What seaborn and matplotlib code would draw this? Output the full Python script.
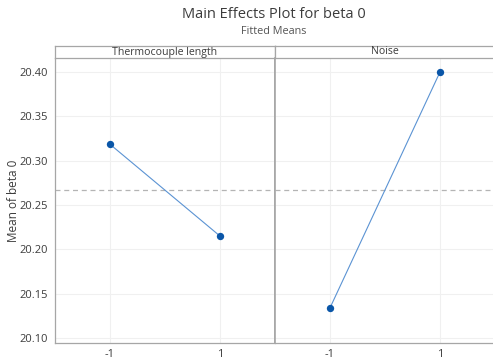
import matplotlib
matplotlib.use("Agg")
import matplotlib.pyplot as plt
import seaborn as sns
import pandas as pd
import numpy as np

factors = ["Thermocouple length", "Noise"]
levels = [-1, 1]
thermo_means = [20.3185, 20.215]
noise_means = [20.134, 20.400]
yticks = [20.10, 20.15, 20.20, 20.25, 20.30, 20.35, 20.40]
ytick_labels = ["20.10", "20.15", "20.20", "20.25", "20.30", "20.35", "20.40"]

sns.set_style("white")
plt.rcParams["font.family"] = ["Open Sans", "DejaVu Sans"]

df = pd.DataFrame({
    "factor": [factors[0]] * 2 + [factors[1]] * 2,
    "level": levels * 2,
    "mean": thermo_means + noise_means,
})
grand_mean = df["mean"].mean()

W, H = 493, 363
fig = plt.figure(figsize=(W / 100, H / 100), dpi=100)

left = 55 / W
right = 495 / W
pw = (right - left) / 2
top_strip = 1 - 46 / H
top_plot = 1 - 58 / H
bottom = 1 - 343 / H

spine_c = "#a6a6a6"
text_c = "#3c3c3c"
grid_c = "#f0f0f0"

axes = []
for i, fac in enumerate(factors):
    x0 = left + i * pw
    ax = fig.add_axes([x0, bottom, pw, top_plot - bottom], sharey=axes[0] if axes else None)
    sax = fig.add_axes([x0, top_plot, pw, top_strip - top_plot])
    sub = df[df["factor"] == fac]
    ax.grid(True, color=grid_c, linewidth=0.8)
    ax.set_axisbelow(True)
    ax.axhline(grand_mean, color="#b4b4b4", linestyle=(0, (4, 3)), linewidth=0.9, zorder=1)
    sns.lineplot(data=sub, x="level", y="mean", ax=ax, color="#5b93d3", linewidth=0.8, zorder=2)
    sns.scatterplot(data=sub, x="level", y="mean", ax=ax, color="#0a56a8", s=28,
                    edgecolor="#0a56a8", linewidth=0, zorder=3)
    ax.set_xlim(-2, 2)
    ax.set_xticks(levels)
    ax.set_xticklabels([str(l) for l in levels])
    ax.set_xlabel("")
    ax.set_ylabel("")
    ax.set_ylim(20.0944, 20.4158)
    ax.set_yticks(yticks)
    ax.tick_params(axis="both", colors=text_c, labelsize=8, length=3, width=0.6, color=spine_c)
    ax.tick_params(axis="x", pad=1.5)
    ax.tick_params(axis="y", pad=2)
    for s in ax.spines.values():
        s.set_color(spine_c)
        s.set_linewidth(0.9)
    ax.spines["top"].set_visible(False)
    if i == 0:
        ax.set_yticklabels(ytick_labels)
        ax.spines["right"].set_linewidth(1.2)
        ax.set_ylabel("Mean of beta 0", fontsize=8.5, color=text_c)
        ax.yaxis.set_label_coords((20 - 55) / 219, 0.5)
    else:
        ax.tick_params(axis="y", left=False, labelleft=False)
        ax.spines["left"].set_linewidth(1.2)
        ax.spines["right"].set_visible(False)
    sax.set_xticks([])
    sax.set_yticks([])
    for s in sax.spines.values():
        s.set_color(spine_c)
        s.set_linewidth(0.9)
    sax.text(0.5, 0.5, fac, ha="center", va="center", fontsize=7.6, color=text_c,
             transform=sax.transAxes)
    axes.append(ax)

fig.text(274 / W, 1 - 15 / H, "Main Effects Plot for beta 0", ha="center", va="center",
         fontsize=10.5, color=text_c)
fig.text(274 / W, 1 - 31 / H, "Fitted Means", ha="center", va="center",
         fontsize=7.8, color="#555555")

fig.savefig("out.png", dpi=100)
